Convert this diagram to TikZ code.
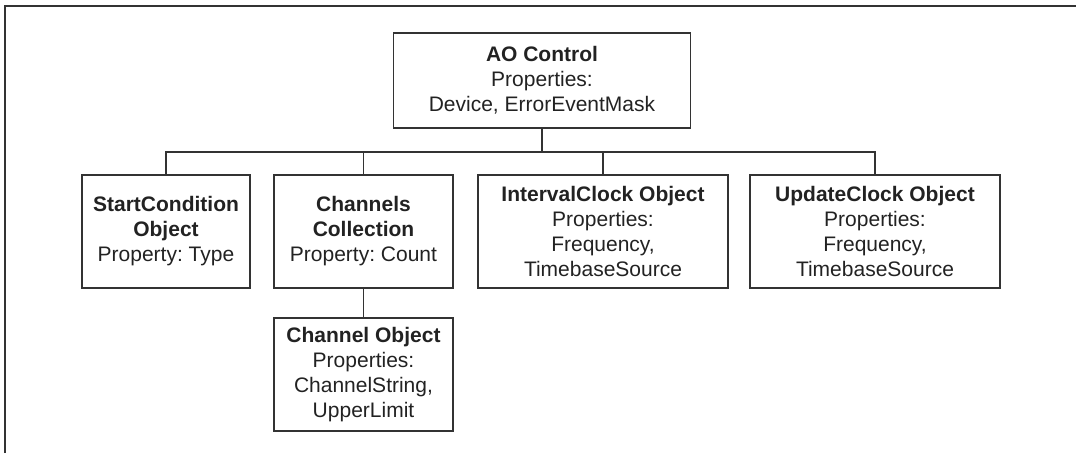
\documentclass[tikz,border=0pt]{standalone}
\usepackage{fontspec}
\setmainfont{Liberation Sans}
\frenchspacing
\definecolor{ink}{HTML}{222222}
\definecolor{linec}{HTML}{333333}
\begin{document}
\begin{tikzpicture}[x=1pt,y=-1pt,
  box/.style={draw=linec, line width=1.4pt, inner sep=0pt, align=center,
    text=ink, font=\fontsize{21}{25}\selectfont\frenchspacing},
  conn/.style={draw=linec, line width=1.4pt},
  frame/.style={draw=linec, line width=2pt}]
\useasboundingbox (0,0) rectangle (1076,453);
\draw[frame] (5,453) -- (5,6) -- (1076,6);
\node[box, minimum width=297pt, minimum height=95pt] (ao) at (542,80.5)
  {\textbf{AO Control}\\Properties:\\Device, ErrorEventMask};
\node[box, minimum width=168pt, minimum height=113pt] (sc) at (166,231.5)
  {\textbf{StartCondition}\\\textbf{Object}\\Property: Type};
\node[box, minimum width=179pt, minimum height=113pt] (ch) at (363.5,231.5)
  {\textbf{Channels}\\\textbf{Collection}\\Property: Count};
\node[box, minimum width=250pt, minimum height=113pt] (ic) at (603,231.5)
  {\textbf{IntervalClock Object}\\Properties:\\Frequency,\\TimebaseSource};
\node[box, minimum width=250pt, minimum height=113pt] (uc) at (875,231.5)
  {\textbf{UpdateClock Object}\\Properties:\\Frequency,\\TimebaseSource};
\node[box, minimum width=179pt, minimum height=113pt] (co) at (363.5,374.5)
  {\textbf{Channel Object}\\Properties:\\ChannelString,\\UpperLimit};
\coordinate (bus) at (0,152);
\draw[conn] (ao.south) -- (ao.south |- bus);
\draw[conn] (sc.north) |- (bus -| uc.north) -- (uc.north);
\draw[conn] (ch.north) -- (ch.north |- bus);
\draw[conn] (ic.north) -- (ic.north |- bus);
\draw[conn] (ch.south) -- (co.north);
\end{tikzpicture}
\end{document}
